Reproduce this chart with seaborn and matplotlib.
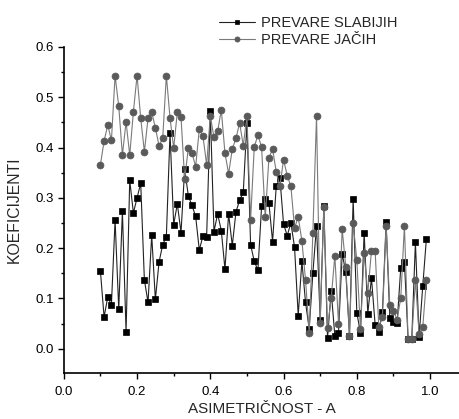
import matplotlib
matplotlib.use("Agg")
import matplotlib.pyplot as plt
import seaborn as sns
import pandas as pd
from matplotlib.ticker import MultipleLocator

x_vals = [0.10, 0.11, 0.12, 0.13, 0.14, 0.15, 0.16, 0.17, 0.18, 0.19,
          0.20, 0.21, 0.22, 0.23, 0.24, 0.25, 0.26, 0.27, 0.28, 0.29,
          0.30, 0.31, 0.32, 0.33, 0.34, 0.35, 0.36, 0.37, 0.38, 0.39,
          0.40, 0.41, 0.42, 0.43, 0.44, 0.45, 0.46, 0.47, 0.48, 0.49,
          0.50, 0.51, 0.52, 0.53, 0.54, 0.55, 0.56, 0.57, 0.58, 0.59,
          0.60, 0.61, 0.62, 0.63, 0.64, 0.65, 0.66, 0.67, 0.68, 0.69,
          0.70, 0.71, 0.72, 0.73, 0.74, 0.75, 0.76, 0.77, 0.78, 0.79,
          0.80, 0.81, 0.82, 0.83, 0.84, 0.85, 0.86, 0.87, 0.88, 0.89,
          0.90, 0.91, 0.92, 0.93, 0.94, 0.95, 0.96, 0.97, 0.98, 0.99]

prevare_slabijih = [0.154, 0.063, 0.103, 0.087, 0.256, 0.079, 0.273, 0.033, 0.335, 0.270,
                    0.300, 0.329, 0.137, 0.092, 0.226, 0.098, 0.172, 0.207, 0.223, 0.429,
                    0.247, 0.288, 0.231, 0.357, 0.304, 0.285, 0.263, 0.196, 0.225, 0.223,
                    0.472, 0.233, 0.268, 0.235, 0.158, 0.268, 0.205, 0.272, 0.295, 0.311,
                    0.449, 0.207, 0.174, 0.156, 0.283, 0.298, 0.290, 0.213, 0.323, 0.339,
                    0.248, 0.225, 0.250, 0.202, 0.066, 0.174, 0.092, 0.040, 0.150, 0.245,
                    0.058, 0.283, 0.021, 0.115, 0.026, 0.032, 0.189, 0.152, 0.026, 0.298,
                    0.072, 0.031, 0.231, 0.070, 0.141, 0.048, 0.033, 0.074, 0.251, 0.062,
                    0.054, 0.051, 0.161, 0.173, 0.019, 0.019, 0.212, 0.024, 0.124, 0.219]

prevare_jacih = [0.366, 0.413, 0.445, 0.414, 0.543, 0.482, 0.385, 0.451, 0.385, 0.471,
                 0.543, 0.458, 0.392, 0.458, 0.471, 0.439, 0.404, 0.418, 0.543, 0.459,
                 0.399, 0.471, 0.460, 0.337, 0.399, 0.389, 0.362, 0.437, 0.422, 0.366,
                 0.463, 0.420, 0.432, 0.475, 0.389, 0.348, 0.397, 0.418, 0.449, 0.404,
                 0.462, 0.256, 0.401, 0.425, 0.401, 0.261, 0.379, 0.397, 0.352, 0.323,
                 0.376, 0.344, 0.323, 0.240, 0.262, 0.215, 0.137, 0.032, 0.230, 0.463,
                 0.051, 0.281, 0.042, 0.100, 0.185, 0.050, 0.238, 0.162, 0.026, 0.250,
                 0.176, 0.039, 0.190, 0.111, 0.195, 0.195, 0.044, 0.064, 0.245, 0.087,
                 0.076, 0.058, 0.101, 0.245, 0.019, 0.019, 0.137, 0.030, 0.043, 0.136]

x_ticks = [0.0, 0.2, 0.4, 0.6, 0.8, 1.0]
y_ticks = [0.0, 0.1, 0.2, 0.3, 0.4, 0.5, 0.6]

sns.set_style("ticks")
plt.rcParams['font.family'] = ['Liberation Sans', 'DejaVu Sans']

df = pd.DataFrame({"x": x_vals, "slab": prevare_slabijih, "jac": prevare_jacih})

fig = plt.figure(figsize=(4.59, 4.19), dpi=100)
ax = fig.add_axes([0.139, 0.110, 0.861, 0.778])

sns.lineplot(data=df, x="x", y="slab", ax=ax, estimator=None, sort=False,
             color="#222222", lw=0.8, marker="s", markersize=4.4,
             markerfacecolor="black", markeredgecolor="black", markeredgewidth=0.5,
             label="PREVARE SLABIJIH")
sns.lineplot(data=df, x="x", y="jac", ax=ax, estimator=None, sort=False,
             color="#7a7a7a", lw=0.8, marker="o", markersize=5.0,
             markerfacecolor="#5a5a5a", markeredgecolor="#5a5a5a", markeredgewidth=0.5,
             label="PREVARE JAČIH")

ax.set_xlim(0, 1.079)
ax.set_ylim(-0.048, 0.6)
ax.set_xticks(x_ticks)
ax.set_yticks(y_ticks)
ax.set_xticklabels([f"{v:.1f}" for v in x_ticks])
ax.set_yticklabels([f"{v:.1f}" for v in y_ticks])
ax.xaxis.set_minor_locator(MultipleLocator(0.1))
ax.yaxis.set_minor_locator(MultipleLocator(0.05))
ax.tick_params(axis="both", which="major", direction="out", length=4.3, width=1,
               labelsize=9.5, color="black", labelcolor="black")
ax.tick_params(axis="x", which="major", pad=5)
ax.tick_params(axis="y", which="major", pad=3)
ax.tick_params(axis="both", which="minor", direction="out", length=2.5, width=1,
               color="black")
for s in ["top", "right"]:
    ax.spines[s].set_visible(False)
for s in ["left", "bottom"]:
    ax.spines[s].set_color("black")
    ax.spines[s].set_linewidth(1.2)

ax.set_xlabel("ASIMETRIČNOST - A", fontsize=11, labelpad=3)
ax.set_ylabel("KOEFICIJENTI", fontsize=11.3, labelpad=10)

leg = ax.legend(loc="upper left", bbox_to_anchor=(219 / 459, 0.962),
                bbox_transform=fig.transFigure, frameon=False,
                fontsize=10.5, handlelength=2.5, handletextpad=0.35,
                labelspacing=0.2, borderaxespad=0, borderpad=0, markerscale=0.75)

fig.savefig("out.png", dpi=100)
